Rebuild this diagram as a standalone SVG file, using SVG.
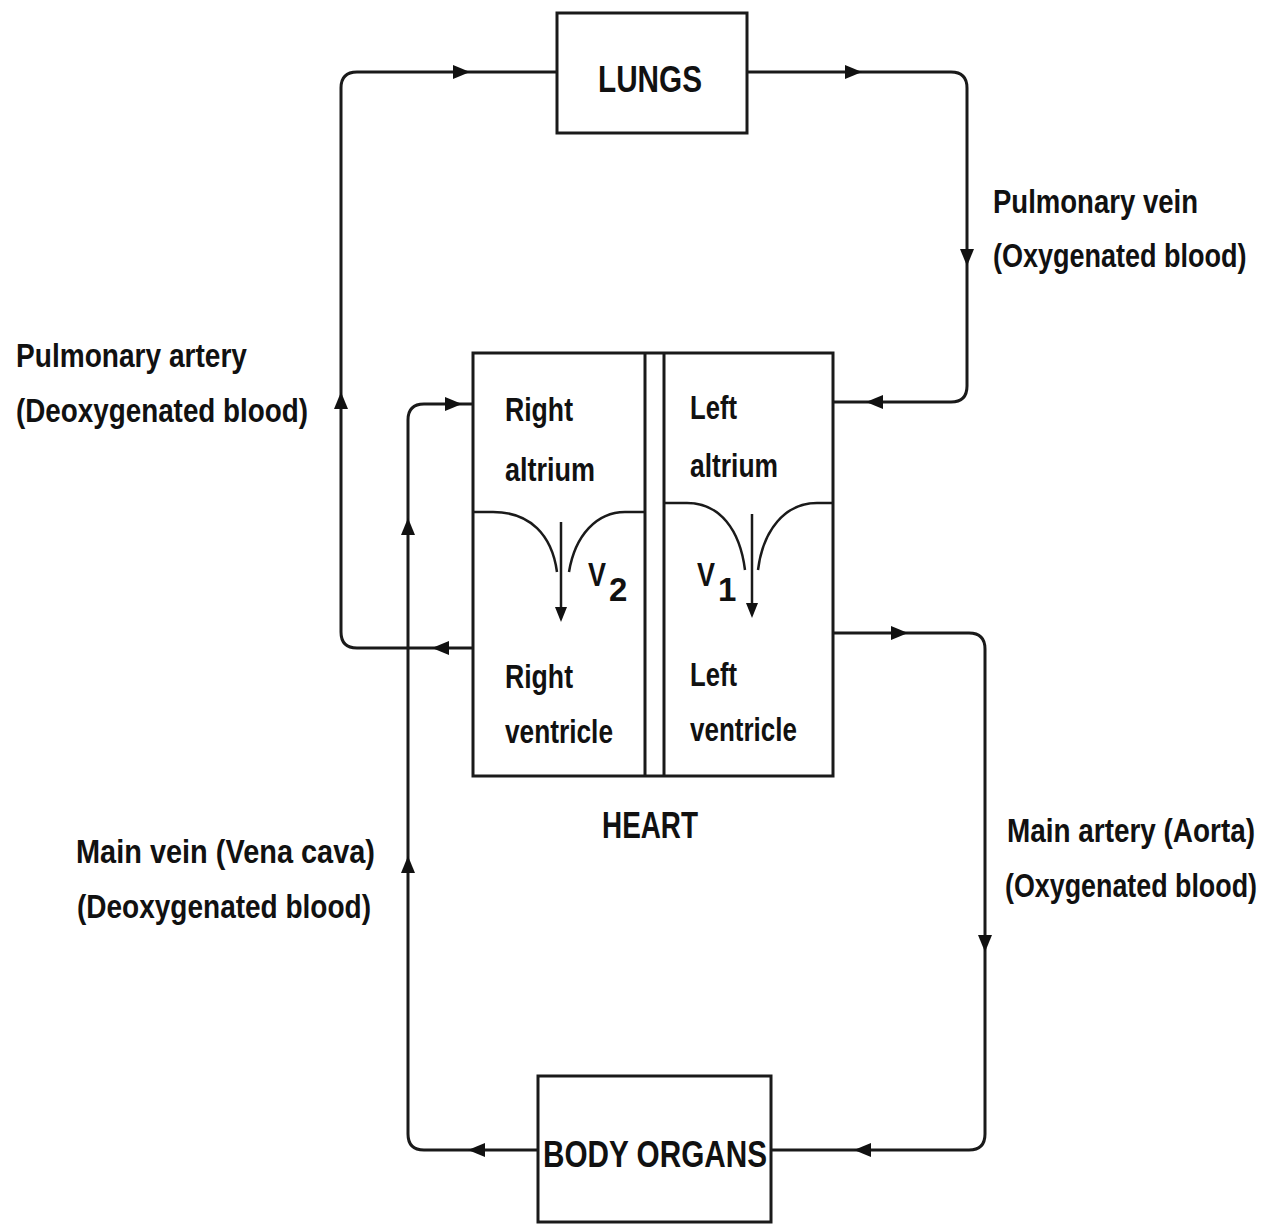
<svg xmlns="http://www.w3.org/2000/svg" xmlns:xlink="http://www.w3.org/1999/xlink" width="1272" height="1226" viewBox="0 0 1272 1226">
<style>
.bx{fill:#fff;stroke:#1a1a1a;stroke-width:3}
.ln{fill:none;stroke:#1a1a1a;stroke-width:3}
.vl{fill:none;stroke:#1a1a1a;stroke-width:2.5}
.t{font-family:"Liberation Sans",Arial,sans-serif;font-weight:bold;font-size:33px;fill:#111}
.h{font-family:"Liberation Sans",Arial,sans-serif;font-weight:bold;font-size:36px;fill:#111}
.ah{fill:#111}
</style>
<defs>
<path id="ah" class="ah" d="M0,0 L-17,-7 L-17,7 Z"/>
<path id="ahs" class="ah" d="M0,0 L-15,-6 L-15,6 Z"/>
</defs>
<rect width="1272" height="1226" fill="#fff"/>
<g id="connectors">
<path class="ln" d="M473,648 H357 Q341,648 341,632 V88 Q341,72 357,72 H556"/>
<use xlink:href="#ah" transform="translate(432,648) rotate(180)"/>
<use xlink:href="#ah" transform="translate(341,392) rotate(-90)"/>
<use xlink:href="#ah" transform="translate(470,72)"/>
<path class="ln" d="M747,72 H951 Q967,72 967,88 V386 Q967,402 951,402 H833"/>
<use xlink:href="#ah" transform="translate(862,72)"/>
<use xlink:href="#ah" transform="translate(967,266) rotate(90)"/>
<use xlink:href="#ah" transform="translate(866,402) rotate(180)"/>
<path class="ln" d="M538,1150 H424 Q408,1150 408,1134 V420 Q408,404 424,404 H473"/>
<use xlink:href="#ah" transform="translate(468,1150) rotate(180)"/>
<use xlink:href="#ah" transform="translate(408,856) rotate(-90)"/>
<use xlink:href="#ah" transform="translate(408,518) rotate(-90)"/>
<use xlink:href="#ah" transform="translate(462,404)"/>
<path class="ln" d="M833,633 H969 Q985,633 985,649 V1134 Q985,1150 969,1150 H771"/>
<use xlink:href="#ah" transform="translate(908,633)"/>
<use xlink:href="#ah" transform="translate(985,952) rotate(90)"/>
<use xlink:href="#ah" transform="translate(854,1150) rotate(180)"/>
</g>
<g id="lungs">
<rect class="bx" x="557" y="13" width="190" height="120"/>
<text class="h" x="650" y="92" text-anchor="middle" textLength="104" lengthAdjust="spacingAndGlyphs">LUNGS</text>
</g>
<g id="heart">
<rect class="bx" x="473" y="353" width="360" height="423"/>
<line class="ln" x1="645" y1="353" x2="645" y2="776"/>
<line class="ln" x1="664" y1="353" x2="664" y2="776"/>
<text class="t" x="505" y="421" textLength="68" lengthAdjust="spacingAndGlyphs">Right</text>
<text class="t" x="505" y="481" textLength="90" lengthAdjust="spacingAndGlyphs">altrium</text>
<text class="t" x="690" y="419" textLength="47" lengthAdjust="spacingAndGlyphs">Left</text>
<text class="t" x="690" y="477" textLength="88" lengthAdjust="spacingAndGlyphs">altrium</text>
<text class="t" x="505" y="688" textLength="68" lengthAdjust="spacingAndGlyphs">Right</text>
<text class="t" x="505" y="743" textLength="108" lengthAdjust="spacingAndGlyphs">ventricle</text>
<text class="t" x="690" y="686" textLength="47" lengthAdjust="spacingAndGlyphs">Left</text>
<text class="t" x="690" y="741" textLength="107" lengthAdjust="spacingAndGlyphs">ventricle</text>
<path class="vl" d="M473,512 H493 C530,512 552,535 557,572"/>
<path class="vl" d="M569,572 C575,535 597,512 625,512 H645"/>
<line class="vl" x1="561" y1="522" x2="561" y2="608"/>
<use xlink:href="#ahs" transform="translate(561,622) rotate(90)"/>
<text class="t" x="588" y="586" font-size="30" textLength="18" lengthAdjust="spacingAndGlyphs">V</text>
<text class="t" x="609" y="601" font-size="18">2</text>
<path class="vl" d="M664,503 H687 C720,503 740,530 745,570"/>
<path class="vl" d="M758,570 C763,530 785,503 817,503 H833"/>
<line class="vl" x1="752" y1="514" x2="752" y2="603"/>
<use xlink:href="#ahs" transform="translate(752,618) rotate(90)"/>
<text class="t" x="697" y="586" font-size="30" textLength="18" lengthAdjust="spacingAndGlyphs">V</text>
<text class="t" x="718" y="601" font-size="18">1</text>
<text class="h" x="650" y="838" text-anchor="middle" textLength="96" lengthAdjust="spacingAndGlyphs">HEART</text>
</g>
<g id="body-organs">
<rect class="bx" x="538" y="1076" width="233" height="146"/>
<text class="h" x="655" y="1167" text-anchor="middle" textLength="224" lengthAdjust="spacingAndGlyphs">BODY ORGANS</text>
</g>
<g id="label-pulmonary-vein">
<text class="t" x="993" y="213" textLength="205" lengthAdjust="spacingAndGlyphs">Pulmonary vein</text>
<text class="t" transform="translate(993,267) scale(0.8,1)" x="0" y="0" textLength="317" lengthAdjust="spacingAndGlyphs">(Oxygenated blood)</text>
</g>
<g id="label-pulmonary-artery">
<text class="t" x="16" y="367" textLength="231" lengthAdjust="spacingAndGlyphs">Pulmonary artery</text>
<text class="t" x="16" y="422" textLength="292" lengthAdjust="spacingAndGlyphs">(Deoxygenated blood)</text>
</g>
<g id="label-vena-cava">
<text class="t" x="76" y="863" textLength="299" lengthAdjust="spacingAndGlyphs">Main vein (Vena cava)</text>
<text class="t" x="77" y="918" textLength="294" lengthAdjust="spacingAndGlyphs">(Deoxygenated blood)</text>
</g>
<g id="label-aorta">
<text class="t" transform="translate(1007,842) scale(0.8,1)" x="0" y="0" textLength="310" lengthAdjust="spacingAndGlyphs">Main artery (Aorta)</text>
<text class="t" transform="translate(1005,897) scale(0.8,1)" x="0" y="0" textLength="315" lengthAdjust="spacingAndGlyphs">(Oxygenated blood)</text>
</g>
</svg>
